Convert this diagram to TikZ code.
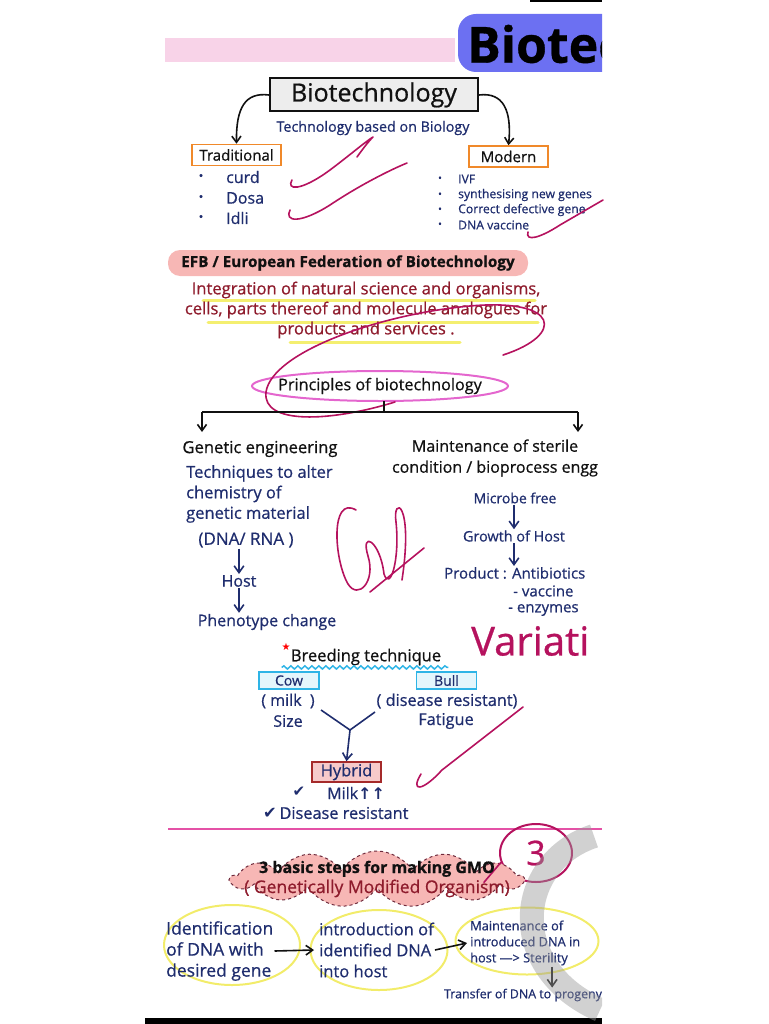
\documentclass[tikz,border=0pt]{standalone}
\usepackage{fontspec}
\setmainfont{Open Sans}[FakeBold=0.7]
\newfontfamily\glyphs{DejaVu Sans}
\usepackage{tikz}
\usetikzlibrary{arrows.meta,positioning,shapes.geometric,shapes.symbols,decorations.pathmorphing}
\definecolor{ink}{HTML}{111111}
\definecolor{navy}{HTML}{1F2D6E}
\definecolor{maroon}{HTML}{8E1B2C}
\definecolor{scrib}{HTML}{B5125E}
\definecolor{orangebox}{HTML}{F0892A}
\definecolor{cyanbox}{HTML}{2EB4E6}
\definecolor{cyanfill}{HTML}{E4F6FC}
\definecolor{hybridred}{HTML}{A52A2A}
\definecolor{hybridfill}{HTML}{F6CACA}
\definecolor{efbpink}{HTML}{F7B7B5}
\definecolor{cloudline}{HTML}{6E2A3C}
\definecolor{yellowhl}{HTML}{F4EF70}
\definecolor{yellowring}{HTML}{F2EC6A}
\definecolor{pinkline}{HTML}{E451A6}
\definecolor{ringpink}{HTML}{E466CE}
\definecolor{pinkhl}{HTML}{F2AED6}
\definecolor{bluebg}{HTML}{6C70F2}
\definecolor{boxgrey}{HTML}{EDEDED}
\definecolor{watergrey}{HTML}{9A9A9A}
\newcommand{\fsz}[2]{\fontsize{#1}{#2}\selectfont}

\begin{document}
\begin{tikzpicture}[
  x=1pt,y=-1pt,
  font=\fsz{15}{18},
  every node/.style={inner sep=1pt},
  hand/.style={text=navy},
  tag/.style={draw=orangebox,line width=1.5pt,fill=white,minimum height=21pt,text=ink},
  animal/.style={draw=cyanbox,line width=1.5pt,fill=cyanfill,minimum width=60pt,minimum height=17pt,text=navy},
  arrow/.style={-{Straight Barb[length=2.4mm,width=3.4mm]},line width=1.6pt,draw=navy},
  treearrow/.style={-{Straight Barb[length=2.2mm,width=3.2mm]},line width=1.6pt,draw=ink},
  scribble/.style={draw=scrib,line width=1.6pt,line cap=round,line join=round},
  marker/.style={draw=yellowhl,line width=3pt,line cap=round},
  stepring/.style={ellipse,draw=yellowring,line width=2pt},
  gmocloud/.style={cloud,cloud puffs=13,cloud puff arc=115,cloud ignores aspect,draw=cloudline,
                   dashed,line width=1pt,fill=efbpink,minimum width=292pt,minimum height=56pt},
]
\useasboundingbox (0,0) rectangle (768,1024);

\fill[pinkhl,opacity=.55] (165,38) rectangle (455,62);
\begin{scope}
  \clip (0,0) rectangle (602,1024);
  \fill[bluebg,rounded corners=18pt] (458,14) rectangle (650,72);
  \node[anchor=west,font=\fsz{50}{50}\bfseries,text=black] (title) at (466,44) {Biotec};
  \node[anchor=west,text=scrib,font=\fsz{40}{40}] (varnote) at (470,641) {Variati};
\end{scope}
\fill[black] (530,0) rectangle (602,2.5);
\fill[black] (145,1018) rectangle (602,1024);

\node[draw=ink,line width=2pt,fill=boxgrey,minimum width=208pt,minimum height=33pt,font=\fsz{25}{25},text=ink] (bio) at (374,95) {Biotechnology};
\node[hand,font=\fsz{14.3}{14.3}] (techdef) at (373,128) {Technology based on Biology};
\node[tag,minimum width=89pt] (trad) at (236.5,155) {Traditional};
\node[tag,minimum width=79pt] (modern) at (508.5,156.5) {Modern};
\draw[treearrow] (bio.west) .. controls (245,92) and (236,108) .. (trad.north);
\draw[treearrow] (bio.east) .. controls (503,92) and (512,110) .. (modern.north);

\foreach \y/\t in {177/curd,198/Dosa,218/Idli}
  {\node[hand,font=\fsz{12}{12}] (tdot\y) at (201,\y) {\textbullet};
   \node[hand,anchor=west,font=\fsz{16}{16}] (titem\y) at (225,\y) {\t};}
\foreach \y/\t in {179/IVF,195/synthesising new genes,210/Correct defective gene,225/DNA vaccine}
  {\node[hand,font=\fsz{10}{10}] (mdot\y) at (440,\y) {\textbullet};
   \node[hand,anchor=west,font=\fsz{12.2}{13}] (mitem\y) at (457,\y) {\t};}

\draw[scribble] (292,180) .. controls (286,190) and (300,192) .. (330,170) .. controls (350,155) and (365,142) .. (373,137) .. controls (368,142) and (362,150) .. (357,157);
\draw[scribble] (290,210) .. controls (284,222) and (300,224) .. (330,205) .. controls (360,185) and (390,170) .. (407,163);
\draw[scribble] (528,232) .. controls (525,242) and (540,238) .. (560,225) -- (603,200);

\node[fill=efbpink,rounded corners=12pt,minimum width=360pt,minimum height=26pt,font=\fsz{15.3}{15.3}\bfseries,text=ink] (efb) at (348,263) {EFB / European Federation of Biotechnology};
\draw[marker] (203,300) -- (535,300);
\draw[marker] (208,322) -- (538,322);
\draw[marker] (290,342) -- (460,342);
\node[text=maroon,align=center,font=\fsz{16.6}{20}] (efbdef) at (366,310) {Integration of natural science and organisms,\\cells, parts thereof and molecule analogues for\\products and services .};

\node[font=\fsz{16.2}{16.2},text=ink] (princ) at (380,386) {Principles of biotechnology};
\draw[ringpink,line width=2pt] (princ.center) ellipse [x radius=128, y radius=15];
\draw[scribble] (503,355) .. controls (565,335) and (560,298) .. (470,306) .. controls (380,314) and (272,352) .. (266,392) .. controls (262,425) and (330,422) .. (395,402);

\coordinate (split) at (384,412);
\coordinate (bl) at (202,412);
\coordinate (br) at (578,412);
\draw[line width=1.6pt,draw=ink] ([yshift=-6pt]princ.south -| split) -- (split);
\draw[line width=1.6pt,draw=ink] (bl) -- (br);
\draw[treearrow] (bl) -- ++(0,20);
\draw[treearrow] (br) -- ++(0,20);

\node[font=\fsz{16.6}{16.6},text=ink] (genet) at (260,449) {Genetic engineering};
\node[align=center,font=\fsz{16}{21},text=ink] (sterile) at (495,458) {Maintenance of sterile\\condition / bioprocess engg};

\node[hand,anchor=west,align=left,font=\fsz{16.5}{20.5}] (alter) at (185,494) {Techniques to alter\\chemistry of\\genetic material};
\node[hand,font=\fsz{17}{17}] (dna) at (246,540) {(DNA/ RNA )};
\node[hand,font=\fsz{16}{16}] (host) at (239,581) {Host};
\node[hand,font=\fsz{16}{16}] (pheno) at (267,622) {Phenotype change};
\draw[arrow] (dna.south -| host) -- (host.north);
\draw[arrow] (host.south) -- (host.south |- pheno.north);

\node[hand,font=\fsz{14}{14}] (microbe) at (515,498) {Microbe free};
\node[hand,font=\fsz{14.4}{14.4}] (growth) at (514,536) {Growth of Host};
\node[hand,anchor=west] (product) at (443,573) {Product : Antibiotics};
\node[hand,anchor=west] (vacc) at (512,591) {- vaccine};
\node[hand,anchor=west] (enz) at (507,610) {- enzymes};
\draw[arrow] (microbe.south -| growth) -- (growth.north);
\draw[arrow] (growth.south) -- (growth.south |- product.north);

\draw[scribble] (356,510) .. controls (330,495) and (334,560) .. (348,584) .. controls (358,600) and (376,582) .. (368,556) .. controls (360,530) and (380,540) .. (384,574) .. controls (390,592) and (400,560) .. (396,522) .. controls (392,496) and (414,500) .. (402,580);
\draw[scribble] (370,592) -- (424,548);

\node[font=\fsz{16.5}{16.5},text=ink] (breed) at (366,657) {Breeding technique};
\draw[cyanbox,line width=1.5pt,decorate,decoration={snake,amplitude=1.6pt,segment length=7pt}] ([xshift=-8pt,yshift=-1pt]breed.south west) -- ([xshift=6pt,yshift=-1pt]breed.south east);
\node[text=red,font=\glyphs\fsz{10}{10}] (star) at (286,647) {★};
\node[animal,font=\fsz{14}{14}] (cow) at (289,680.5) {Cow};
\node[animal,font=\fsz{14}{14}] (bull) at (446.5,680.5) {Bull};
\node[hand,font=\fsz{16}{16}] (milk) at (288,701) {( milk\ \ )};
\node[hand,font=\fsz{16}{16}] (size) at (288,721) {Size};
\node[hand,font=\fsz{16.3}{16.3}] (disease) at (447,701) {( disease resistant)};
\node[hand,font=\fsz{16.3}{16.3}] (fatigue) at (446,721) {Fatigue};
\coordinate (lfork) at (321,710);
\coordinate (rfork) at (375,712);
\coordinate (fork) at (350,730);
\node[draw=hybridred,line width=1.5pt,fill=hybridfill,minimum width=69pt,minimum height=20pt,text=navy,font=\fsz{16.5}{16.5}] (hybrid) at (346.5,772) {Hybrid};
\draw[line width=1.6pt,draw=navy] (lfork) -- (fork) -- (rfork);
\draw[arrow] (fork) -- (hybrid.north);
\node[hand,font=\glyphs\fsz{15}{15}] (tick) at (299,792) {✔};
\node[hand,anchor=west,font=\fsz{16}{16}] (milkup) at (326,793) {Milk{\glyphs\bfseries ↑↑}};
\node[hand,anchor=west,font=\fsz{16.3}{16.3}] (disres) at (262,813) {{\glyphs ✔}\,Disease resistant};
\draw[scribble] (421,774) .. controls (410,792) and (422,792) .. (442,770) -- (523,707);

\draw[pinkline,line width=2pt] (168,829) -- (602,829);
\node[ellipse,draw=scrib,line width=2pt,minimum width=72pt,minimum height=58pt,text=scrib,font=\fsz{34}{34}] (three) at (536,853) {3};
\node[gmocloud] (gmo) at (377,879) {};
\draw[scribble] (three.195) -- ++(-17,20);
\node[align=center,font=\fsz{16}{20}] (gmotext) at (gmo.center) {{\bfseries\color{ink}3 basic steps for making GMO}\\{\color{maroon}\fsz{17.5}{20}( Genetically Modified Organism)}};

\node[stepring,minimum width=136pt,minimum height=80pt] (ring1) at (232,945) {};
\node[stepring,minimum width=137pt,minimum height=80pt] (ring2) at (379,950) {};
\node[stepring,minimum width=143pt,minimum height=67pt] (ring3) at (527,941) {};
\node[hand,anchor=west,align=left,font=\fsz{17.5}{21}] (txt1) at (165,951) {Identification\\of DNA with\\desired gene};
\node[hand,anchor=west,align=left,font=\fsz{16.5}{21}] (txt2) at (318,950) {introduction of\\identified DNA\\into host};
\node[hand,anchor=west,align=left,font=\fsz{12.8}{16}] (txt3) at (469,943) {Maintenance of\\introduced DNA in\\host —> Sterility};
\node[hand,font=\fsz{12.4}{12.4}] (prog) at (523,995) {Transfer of DNA to progeny};
\draw[arrow,draw=ink] (txt1.east) -- ([xshift=-4pt]txt2.west);
\draw[arrow,draw=ink] (txt2.east) -- ([xshift=-2pt]txt3.west);
\draw[arrow,draw=ink] ([xshift=27pt]txt3.south) -- ([xshift=27pt]txt3.south |- prog.north);

\begin{scope}
  \clip (0,0) rectangle (602,1024);
  \draw[watergrey,line width=24pt,opacity=.45] (594,836) .. controls (515,862) and (505,968) .. (600,1010);
\end{scope}
\end{tikzpicture}
\end{document}
